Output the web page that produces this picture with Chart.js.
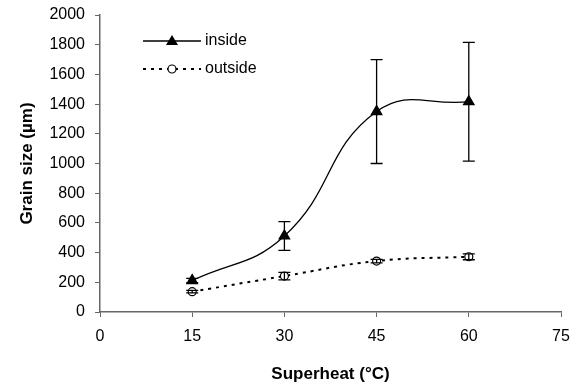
<!DOCTYPE html>
<html lang="en">
<head>
  <meta charset="UTF-8">
  <title>Grain size vs superheat</title>
  <script src="https://cdn.jsdelivr.net/npm/chart.js"></script>
  <style>
    body { margin: 0; background: #fff; }
    #wrap { width: 580px; height: 389px; }
  </style>
</head>
<body>
  <div id="wrap"><canvas id="grainChart" width="580" height="389"></canvas></div>
  <script>
    // values
    const superheat = [15, 30, 45, 60];
    const insideSize = [212, 512, 1350, 1416];
    const insideErr = [15, 97, 350, 400];
    const outsideSize = [137, 242, 343, 372];
    const outsideErr = [8, 25, 12, 20];
    const xTicks = [0, 15, 30, 45, 60, 75];

    const font = 'Liberation Sans, Arial, sans-serif';

    function pts(xs, ys) {
      return xs.map((x, i) => ({ x: x, y: ys[i] }));
    }

    // error bars, drawn through the chart scales
    const errorBars = {
      id: 'errorBars',
      afterDatasetsDraw(chart) {
        const ctx = chart.ctx;
        const xs = chart.scales.x, ys = chart.scales.y;
        chart.data.datasets.forEach(ds => {
          ctx.save();
          ctx.strokeStyle = '#000';
          ctx.lineWidth = 1.3;
          ds.data.forEach((p, i) => {
            const e = ds.errors[i];
            const px = xs.getPixelForValue(p.x);
            const top = ys.getPixelForValue(p.y + e);
            const bot = ys.getPixelForValue(p.y - e);
            ctx.beginPath();
            ctx.moveTo(px, top); ctx.lineTo(px, bot);
            ctx.moveTo(px - 6, top); ctx.lineTo(px + 6, top);
            ctx.moveTo(px - 6, bot); ctx.lineTo(px + 6, bot);
            ctx.stroke();
          });
          ctx.restore();
        });
      }
    };

    // legend inside the plot, top left
    const innerLegend = {
      id: 'innerLegend',
      afterDraw(chart) {
        const ctx = chart.ctx;
        const rows = [{ ds: chart.data.datasets[0], y: 41 }, { ds: chart.data.datasets[1], y: 69 }];
        rows.forEach(r => {
          const ds = r.ds;
          ctx.save();
          ctx.strokeStyle = '#000';
          ctx.lineWidth = ds.borderWidth;
          ctx.setLineDash(ds.borderDash || []);
          ctx.beginPath();
          ctx.moveTo(143, r.y); ctx.lineTo(201, r.y);
          ctx.stroke();
          ctx.setLineDash([]);
          ctx.lineWidth = 1.2;
          ctx.fillStyle = ds.pointBackgroundColor;
          if (ds.pointStyle === 'triangle') {
            ctx.beginPath();
            ctx.moveTo(172, r.y - 6); ctx.lineTo(178, r.y + 4); ctx.lineTo(166, r.y + 4);
            ctx.closePath(); ctx.fill();
          } else {
            ctx.beginPath();
            ctx.arc(172, r.y, ds.pointRadius, 0, Math.PI * 2);
            ctx.fill(); ctx.stroke();
          }
          ctx.fillStyle = '#000';
          ctx.font = '16px ' + font;
          ctx.textBaseline = 'middle';
          ctx.fillText(ds.label, 205, r.y);
          ctx.restore();
        });
      }
    };

    new Chart(document.getElementById('grainChart'), {
      type: 'line',
      data: {
        datasets: [
          {
            label: 'inside',
            data: pts(superheat, insideSize),
            errors: insideErr,
            borderColor: '#000',
            borderWidth: 1.3,
            tension: 0.45,
            pointStyle: 'triangle',
            pointRadius: 6,
            pointBackgroundColor: '#000',
            pointBorderColor: '#000'
          },
          {
            label: 'outside',
            data: pts(superheat, outsideSize),
            errors: outsideErr,
            borderColor: '#000',
            borderWidth: 2,
            borderDash: [3, 5],
            tension: 0.45,
            pointStyle: 'circle',
            pointRadius: 4,
            pointBackgroundColor: '#fff',
            pointBorderColor: '#000',
            pointBorderWidth: 1.2
          }
        ]
      },
      options: {
        responsive: false,
        animation: false,
        layout: { padding: { top: 15, right: 19, left: 0, bottom: 0 } },
        plugins: { legend: { display: false }, tooltip: { enabled: false } },
        scales: {
          x: {
            type: 'linear',
            min: 0, max: 75,
            afterBuildTicks: s => { s.ticks = xTicks.map(v => ({ value: v })); },
            afterFit: s => { s.height = 77; s.paddingLeft = 0; s.paddingRight = 0; },
            grid: { drawOnChartArea: false, tickLength: 5, color: '#666' },
            border: { color: '#666', width: 1.5 },
            ticks: { color: '#000', font: { family: font, size: 16 }, padding: 10, maxRotation: 0, callback: v => String(v) },
            title: { display: true, text: 'Superheat (°C)', color: '#000', font: { family: font, size: 17, weight: 'bold' }, padding: { top: 14, bottom: 4 } }
          },
          y: {
            min: 0, max: 2000,
            afterFit: s => { s.width = 100; s.paddingTop = 0; s.paddingBottom = 0; },
            grid: { drawOnChartArea: false, tickLength: 5, color: '#666' },
            border: { color: '#666', width: 1.5 },
            ticks: { stepSize: 200, color: '#000', font: { family: font, size: 16 }, padding: 10, callback: v => String(v) },
            title: { display: true, text: 'Grain size (µm)', color: '#000', font: { family: font, size: 17, weight: 'bold' }, padding: { top: 17, bottom: 4 } }
          }
        }
      },
      plugins: [errorBars, innerLegend]
    });
  </script>
</body>
</html>
